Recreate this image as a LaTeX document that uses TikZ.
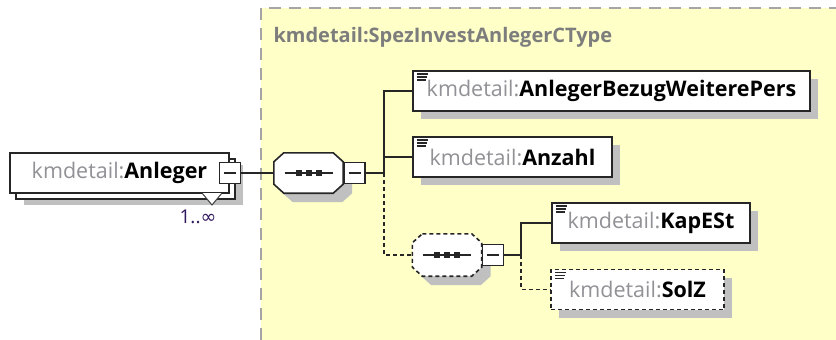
\documentclass[tikz,border=0pt]{standalone}
\usepackage{fontspec}
\setmainfont{Open Sans}
\newfontfamily\symfont{DejaVu Sans}
\usepackage{xcolor}
\usetikzlibrary{positioning,shadows}

\definecolor{typebg}{RGB}{255,255,200}
\definecolor{typeframe}{RGB}{165,165,165}
\definecolor{shadowgray}{RGB}{192,192,192}
\definecolor{prefixgray}{RGB}{145,145,150}
\definecolor{typegray}{RGB}{125,125,125}
\definecolor{occcolor}{RGB}{50,25,95}

\newcommand{\kmdpfx}{\textcolor{prefixgray}{kmdetail:}}
% octagon outline of a compositor, drawn round the (invisible) node #1
\newcommand{\seqshape}[2]{%
  \path[draw=black!85, line width=1.6pt, fill=white, #2,
    preaction={draw=none, fill=shadowgray, transform canvas={shift={(9pt,-9pt)}}}]
    ([xshift=10pt]#1.north west) -- ([xshift=-10pt]#1.north east) -- ([yshift=-9pt]#1.north east)
    -- ([yshift=9pt]#1.south east) -- ([xshift=-10pt]#1.south east) -- ([xshift=10pt]#1.south west)
    -- ([yshift=9pt]#1.south west) -- ([yshift=-9pt]#1.north west) -- cycle;
  \draw[line width=1.5pt, black!85] ([xshift=-24pt]#1.center) -- ([xshift=24pt]#1.center);
  \foreach \dx in {-10,0,10} \fill[black!85] ([xshift=\dx pt]#1.center) +(-3,-3) rectangle +(3,3);}

\tikzset{
  elem/.style={draw=black!85, line width=1.6pt, fill=white, minimum height=40pt,
    inner sep=0pt, drop shadow={shadow xshift=8pt, shadow yshift=-8pt, draw=none, fill=shadowgray, opacity=1},
    path picture={\foreach \l [count=\i] in {11,10,9}
      \draw[solid, black!85, line width=1.2pt] ([xshift=4pt, yshift=-\i*3pt]path picture bounding box.north west) -- ++(\l,0);}},
  optelem/.style={elem, dash pattern=on 4pt off 3pt},
  seqbox/.style={minimum width=69pt, minimum height=40pt, inner sep=0pt},
  minusbox/.style={draw=black!85, line width=1.6pt, fill=white, minimum width=21pt, minimum height=21pt, inner sep=0pt,
    path picture={\draw[solid, black!85, line width=1.3pt] ([xshift=-6pt]path picture bounding box.center) -- ([xshift=6pt]path picture bounding box.center);}},
  conn/.style={line width=1.6pt, black!85},
  optconn/.style={conn, dash pattern=on 4pt off 3pt}
}

\begin{document}
\begin{tikzpicture}[x=1pt, y=-1pt, font=\fontsize{21.5}{24}\selectfont]
  \useasboundingbox (0,0) rectangle (836,340);
  \fill[white] (0,0) rectangle (836,340);
  % complex type area
  \fill[typebg] (261,8) rectangle (836,340);
  \draw[typeframe, line width=1.5pt, dash pattern=on 12pt off 8pt] (261,340) -- (261,8) -- (836,8);
  \node[anchor=west, text=typegray, font=\fontsize{20}{22}\selectfont\bfseries] (ctype) at (270,37) {kmdetail:SpezInvestAnlegerCType};

  % root element
  \node[draw=black!85, line width=1.6pt, fill=white, minimum width=219pt, minimum height=40pt, inner sep=0pt,
    drop shadow={shadow xshift=14pt, shadow yshift=-12pt, draw=none, fill=shadowgray, opacity=1},
    copy shadow={shadow xshift=6pt, shadow yshift=-6pt}] (anl) at (119.5,173) {\kmdpfx\textbf{Anleger}};
  \draw[black!75, fill=white, line width=1pt] (202,193) -- (212,205) -- (222,193);
  \node[text=occcolor, font=\fontsize{19}{21}\selectfont] (anlocc) at (198,217) {1..{\symfont ∞}};
  \node[minusbox] (anlm) at (anl.east) {};

  % sequence
  \node[seqbox] (seq1) at (308.5,173) {};
  \seqshape{seq1}{solid}
  \node[minusbox, right=0pt of seq1] (seq1m) {};

  \node[elem, minimum width=397pt] (bez) at (611.5,91) {\kmdpfx\textbf{AnlegerBezugWeiterePers}};
  \node[elem, minimum width=199pt] (anz) at (512.5,157) {\kmdpfx\textbf{Anzahl}};

  % optional sequence
  \node[seqbox, minimum height=42pt] (seq2) at (447,255) {};
  \seqshape{seq2}{dash pattern=on 4pt off 3pt}
  \node[minusbox, right=0pt of seq2] (seq2m) {};

  \node[elem, minimum width=198pt] (kap) at (651,223) {\kmdpfx\textbf{KapESt}};
  \node[optelem, minimum width=173pt] (solz) at (637.5,289.5) {\kmdpfx\textbf{SolZ}};

  % connectors
  \coordinate (j1) at (384,173);
  \coordinate (j2) at (521,255);
  \draw[conn] (anlm.east) -- (seq1.west);
  \draw[conn] (seq1m.east) -- (j1);
  \draw[conn] (j1) |- (bez.west);
  \draw[conn] (j1) |- (anz.west);
  \draw[optconn] (j1) |- (seq2.west);
  \draw[conn] (seq2m.east) -- (j2);
  \draw[conn] (j2) |- (kap.west);
  \draw[optconn] (j2) |- (solz.west);
\end{tikzpicture}
\end{document}
